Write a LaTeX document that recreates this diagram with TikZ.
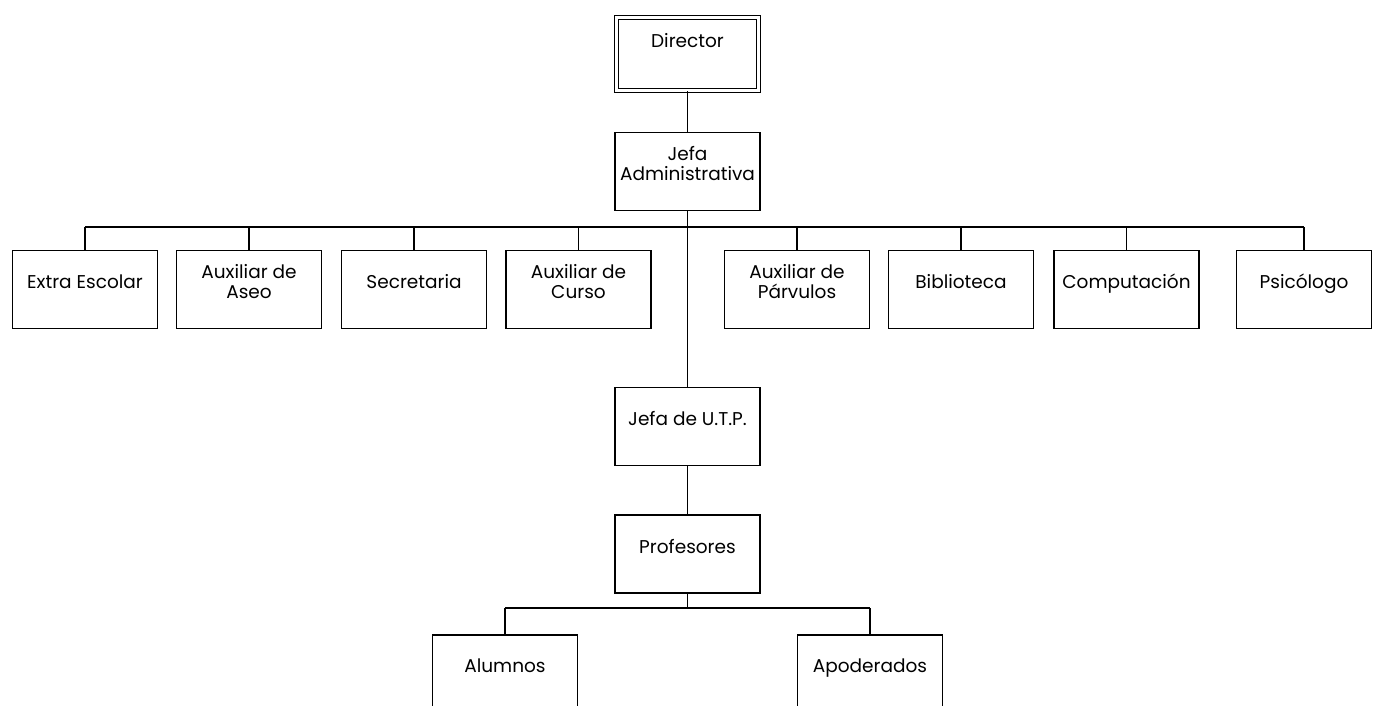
\documentclass[tikz,border=0pt]{standalone}
\usepackage{fontspec}
\setmainfont{Poppins}
\tikzset{
	cargo/.style={draw, line width=1.3pt, minimum width=145pt, minimum height=78pt, align=center, text depth=16pt, inner sep=2pt, font=\fontsize{18.5}{20.5}\selectfont},
	jefe/.style={cargo, double, line width=1.1pt, double distance=2.5pt, minimum width=142pt, minimum height=73pt, text depth=27pt},
	linea/.style={line width=1.3pt},
	barra/.style={line width=1.8pt}
}
\begin{document}
\begin{tikzpicture}[x=1pt,y=-1pt]
	\clip[use as bounding box] (0,0) rectangle (1373,705);
	\node [jefe] (dir) at (687.5,54) {Director};
	\node [cargo] (jadm) at (687.5,171.5) {Jefa\\Administrativa};
	\coordinate (bus) at (687.5,227);
	\node [cargo] (ext) at (85,289.5) {Extra Escolar};
	\node [cargo] (aseo) at (249,289.5) {Auxiliar de\\Aseo};
	\node [cargo] (secr) at (414,289.5) {Secretaria};
	\node [cargo] (curso) at (578.5,289.5) {Auxiliar de\\Curso};
	\node [cargo] (parv) at (797,289.5) {Auxiliar de\\Párvulos};
	\node [cargo] (bibl) at (961,289.5) {Biblioteca};
	\node [cargo] (comp) at (1126.5,289.5) {Computación};
	\node [cargo, minimum width=135pt] (psi) at (1304,289.5) {Psicólogo};
	\node [cargo] (utp) at (687.5,426.5) {Jefa de U.T.P.};
	\node [cargo] (prof) at (687.5,554) {Profesores};
	\coordinate (bus2) at (687.5,608);
	\node [cargo] (alum) at (505,674) {Alumnos};
	\node [cargo] (apod) at (870,674) {Apoderados};
	\draw [linea] (dir.south) -- (jadm.north);
	\draw [linea] (jadm.south) -- (utp.north);
	\draw [linea] (utp.south) -- (prof.north);
	\draw [barra] (ext.north |- bus) -- (psi.north |- bus);
	\foreach \n in {ext,aseo,secr,curso,parv,bibl,comp,psi}
		\draw [linea] (\n.north) -- (\n.north |- bus);
	\draw [linea] (prof.south) -- (bus2);
	\draw [barra] (alum.north |- bus2) -- (apod.north |- bus2);
	\draw [linea] (alum.north) -- (alum.north |- bus2);
	\draw [linea] (apod.north) -- (apod.north |- bus2);
\end{tikzpicture}
\end{document}
